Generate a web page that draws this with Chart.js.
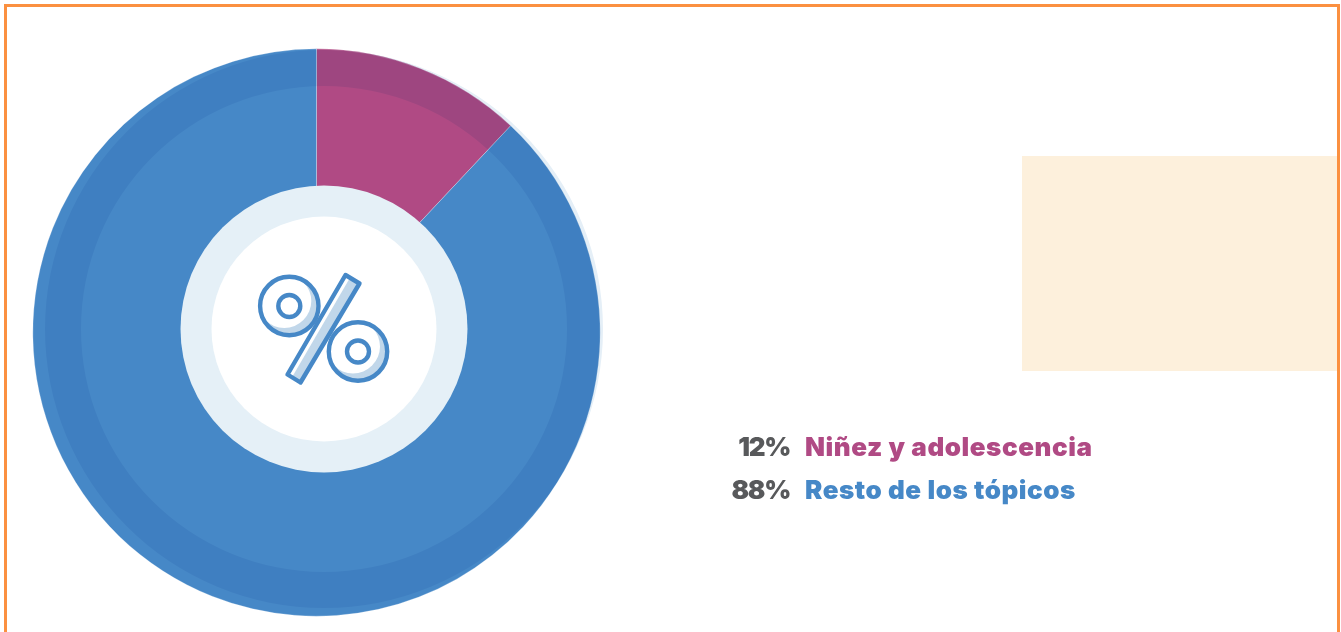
<!DOCTYPE html>
<html lang="es">
<head>
<meta charset="utf-8">
<title>Niñez y adolescencia</title>
<script src="https://cdn.jsdelivr.net/npm/chart.js@4"></script>
<style>
html,body{margin:0;padding:0;background:#fff;overflow:hidden}
#wrap{position:relative;width:1341px;height:632px;overflow:hidden}
#frame{position:absolute;left:4px;top:4px;width:1330px;height:640px;border:3px solid #fb9040;box-sizing:content-box}
#note{position:absolute;left:1022px;top:156px;width:315px;height:215px;background:#fdf0dc}
#chart{position:absolute;left:0;top:0;width:1341px;height:632px}
.row{position:absolute;font:900 26px/32px "Inter","Open Sans",sans-serif;white-space:nowrap}
.pct{right:551px;color:#58595b;letter-spacing:-1.3px}
.lab{left:805px;letter-spacing:0.55px}
</style>
</head>
<body>
<div id="wrap">
<div id="note"></div>
<canvas id="chart" width="1341" height="632"></canvas>
<div id="frame"></div>
</div>
<script>
const categories = ['Niñez y adolescencia', 'Resto de los tópicos'];
const shares = [12, 88];
const colors = ['#b04a84', '#4688c7'];

const decoration = {
  id: 'decoration',
  afterDatasetsDraw(chart) {
    const c = chart.ctx;
    const cx = 324, cy = 329;
    c.save();
    // darker ring, multiplied over the pie
    c.globalCompositeOperation = 'multiply';
    c.fillStyle = '#e5eff7';
    c.beginPath();
    c.arc(cx, cy, 279, 0, Math.PI * 2);
    c.arc(cx, cy, 243, 0, Math.PI * 2, true);
    c.fill('evenodd');
    c.globalCompositeOperation = 'source-over';
    // centre discs
    c.fillStyle = '#e5f0f7';
    c.beginPath(); c.arc(cx, cy, 143.5, 0, Math.PI * 2); c.fill();
    c.fillStyle = '#ffffff';
    c.beginPath(); c.arc(cx, cy, 112.5, 0, Math.PI * 2); c.fill();

    // percent icon
    const blue = '#4688c7', pale = '#c1d7ea';
    const ring = (x, y) => {
      c.fillStyle = pale;
      c.beginPath(); c.arc(x, y, 29.2, 0, Math.PI * 2); c.fill();
      c.fillStyle = '#fff';
      c.beginPath(); c.arc(x - 5, y - 5, 27, 0, Math.PI * 2); c.fill();
      c.strokeStyle = blue; c.lineWidth = 4.4;
      c.beginPath(); c.arc(x, y, 29.2, 0, Math.PI * 2); c.stroke();
      c.fillStyle = '#fff';
      c.beginPath(); c.arc(x, y, 11, 0, Math.PI * 2); c.fill(); c.stroke();
    };
    ring(289.3, 306);
    ring(358, 351.5);
    c.lineJoin = 'round';
    const bar = [[345.5, 275], [359.5, 283.5], [300.5, 382.5], [287.5, 374.5]];
    c.fillStyle = pale;
    c.beginPath();
    bar.forEach((p, i) => i ? c.lineTo(p[0], p[1]) : c.moveTo(p[0], p[1]));
    c.closePath(); c.fill();
    c.fillStyle = '#fff';
    c.beginPath();
    c.moveTo(345.5, 275); c.lineTo(350, 277.7); c.lineTo(292, 377.2); c.lineTo(287.5, 374.5);
    c.closePath(); c.fill();
    c.strokeStyle = blue; c.lineWidth = 4.4;
    c.beginPath();
    bar.forEach((p, i) => i ? c.lineTo(p[0], p[1]) : c.moveTo(p[0], p[1]));
    c.closePath(); c.stroke();
    c.restore();
  }
};

new Chart(document.getElementById('chart'), {
  type: 'pie',
  data: {
    labels: categories,
    datasets: [{
      data: shares,
      backgroundColor: colors,
      borderColor: 'rgba(255,255,255,0.35)',
      borderWidth: 0.7
    }]
  },
  options: {
    responsive: false,
    animation: false,
    layout: { padding: { left: 32.5, top: 48.5, right: 740.5, bottom: 15.5 } },
    plugins: { legend: { display: false }, tooltip: { enabled: false } }
  },
  plugins: [decoration]
});

const wrap = document.getElementById('wrap');
const tops = [431, 474];
categories.forEach((name, i) => {
  const p = document.createElement('div');
  p.className = 'row pct';
  p.style.top = tops[i] + 'px';
  p.textContent = shares[i] + '%';
  wrap.appendChild(p);
  const l = document.createElement('div');
  l.className = 'row lab';
  l.style.top = tops[i] + 'px';
  l.style.color = colors[i];
  l.textContent = name;
  wrap.appendChild(l);
});
</script>
</body>
</html>
